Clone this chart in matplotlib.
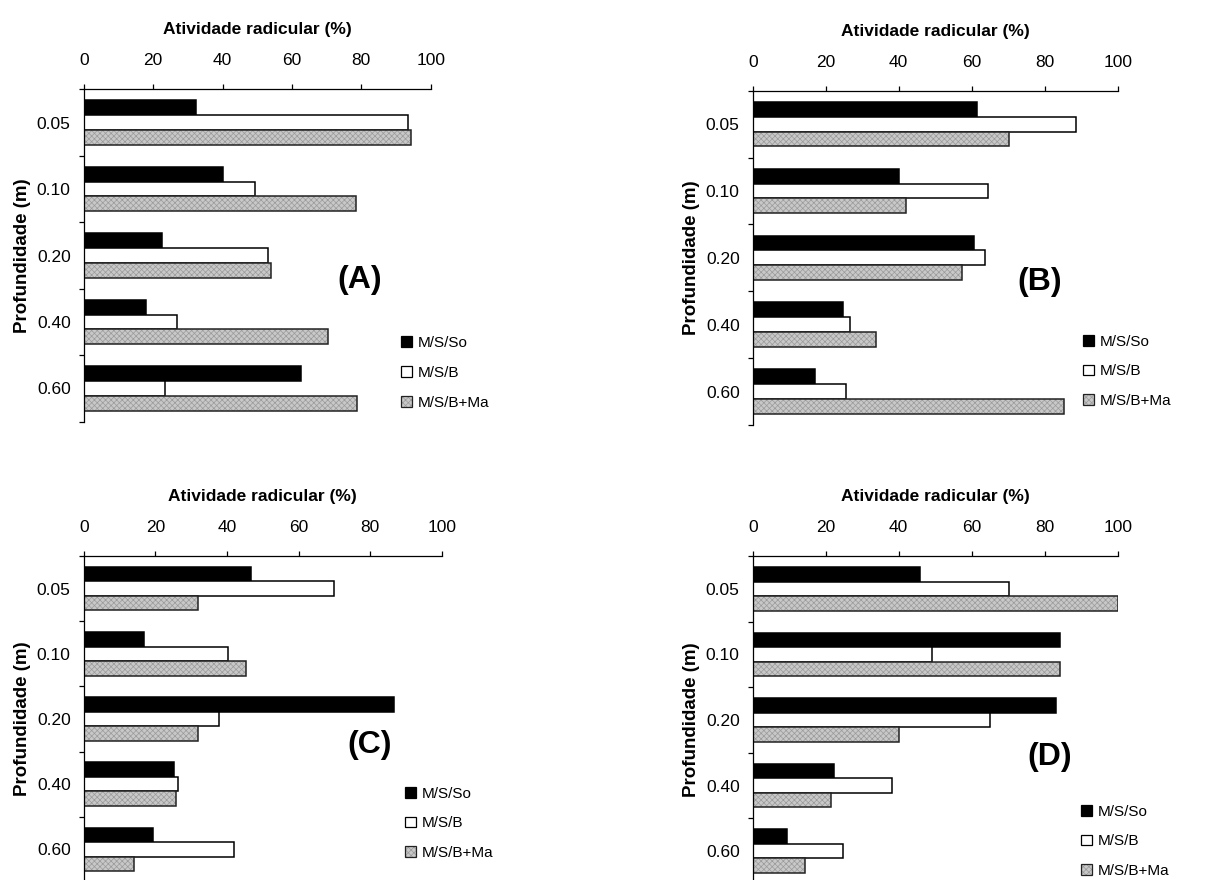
import matplotlib
matplotlib.use("Agg")
import matplotlib.pyplot as plt
import numpy as np
from matplotlib.patches import Patch

plt.rcParams["font.family"] = ["Liberation Sans", "DejaVu Sans"]
plt.rcParams["hatch.linewidth"] = 0.5

depths = ["0.05", "0.10", "0.20", "0.40", "0.60"]
series = ["M/S/So", "M/S/B", "M/S/B+Ma"]

# root activity (%) per depth, one list per treatment
a_so = [32.4, 40.2, 22.5, 18.0, 62.6]
a_b = [93.6, 49.3, 53.0, 27.0, 23.4]
a_ma = [94.3, 78.5, 53.9, 70.5, 78.9]

b_so = [61.4, 40.2, 60.5, 24.8, 17.2]
b_b = [88.6, 64.6, 63.7, 26.6, 25.5]
b_ma = [70.3, 41.9, 57.3, 33.9, 85.4]

c_so = [46.6, 16.7, 86.6, 25.2, 19.3]
c_b = [69.8, 40.3, 37.8, 26.4, 41.9]
c_ma = [31.9, 45.4, 31.9, 25.8, 14.1]

d_so = [45.7, 84.3, 83.2, 22.3, 9.5]
d_b = [70.3, 49.2, 65.1, 38.3, 24.7]
d_ma = [100.0, 84.2, 40.1, 21.5, 14.2]

W, H = 1229, 880
PT = 72 / 100  # points per pixel at 100 dpi

# each treatment: list of layers (fill/texture first, outline last)
styles = [
    [dict(facecolor="black", edgecolor="black")],
    [dict(facecolor="white", edgecolor="black")],
    [dict(facecolor="#c8c8c8", edgecolor="#9a9a9a", hatch="xxxxxx", linewidth=0),
     dict(fill=False, edgecolor="#222222")],
]

# (left, top, right, bottom) px, data, letter, letter pos, legend anchor px, legend row spacing
panels = [
    ((83.7, 89.3, 430.7, 421.7), (a_so, a_b, a_ma), "(A)", (0.796, 0.426), (401, 336), 1.05),
    ((752.7, 90.7, 1117.7, 425.0), (b_so, b_b, b_ma), "(B)", (0.787, 0.428), (1083, 335), 1.0),
    ((83.7, 556.0, 442.0, 882.0), (c_so, c_b, c_ma), "(C)", (0.799, 0.420), (405, 787), 1.0),
    ((752.7, 556.0, 1117.7, 884.0), (d_so, d_b, d_ma), "(D)", (0.815, 0.387), (1081, 805), 1.0),
]

fig = plt.figure(figsize=(W / 100, H / 100), dpi=100)

y = np.arange(len(depths)) + 0.5
bh = 0.222

handles = []
for layers in styles:
    parts = []
    for st in layers:
        kw = dict(linewidth=0.9)
        kw.update(st)
        parts.append(Patch(**kw))
    handles.append(tuple(parts) if len(parts) > 1 else parts[0])

for (l, t, r, b), vals, letter, lpos, leg, spacing in panels:
    ax = fig.add_axes([l / W, 1 - b / H, (r - l) / W, (b - t) / H])
    for k, (v, layers) in enumerate(zip(vals, styles)):
        for st in layers:
            kw = dict(linewidth=1.1)
            kw.update(st)
            ax.barh(y + (k - 1) * bh, v, height=bh, **kw)
    ax.set_xlim(0, 100)
    ax.set_ylim(len(depths), 0)

    ax.xaxis.tick_top()
    ax.xaxis.set_label_position("top")
    ax.set_xticks(np.arange(0, 101, 20))
    ax.tick_params(axis="x", direction="out", length=5 * PT, width=0.9,
                   pad=16 * PT, labelsize=12.5)
    ax.set_xlabel("Atividade radicular (%)", fontsize=12.5, fontweight="bold",
                  labelpad=19 * PT)

    # group boundaries get the tick marks, depth labels sit between them
    ax.set_yticks(np.arange(0, len(depths) + 1))
    ax.set_yticklabels([])
    ax.set_yticks(y, minor=True)
    ax.set_yticklabels(depths, minor=True)
    ax.tick_params(axis="y", which="major", direction="out", length=5 * PT, width=0.9)
    ax.tick_params(axis="y", which="minor", length=0, pad=13 * PT, labelsize=12.5)
    ax.set_ylabel("Profundidade (m)", fontsize=13.5, fontweight="bold",
                  labelpad=6 * PT)

    for s in ("right", "bottom"):
        ax.spines[s].set_visible(False)
    for s in ("top", "left"):
        ax.spines[s].set_linewidth(0.9)

    ax.text(lpos[0], lpos[1], letter, transform=ax.transAxes, ha="center", va="center",
            fontsize=23, fontweight="bold")

    ax.legend(handles, series, loc="upper left", bbox_to_anchor=(leg[0] / W, 1 - leg[1] / H),
              bbox_transform=fig.transFigure, frameon=False, fontsize=11,
              handlelength=0.7, handleheight=0.7, handletextpad=0.4,
              labelspacing=spacing, borderpad=0, borderaxespad=0)

fig.savefig("out.png", dpi=100)
